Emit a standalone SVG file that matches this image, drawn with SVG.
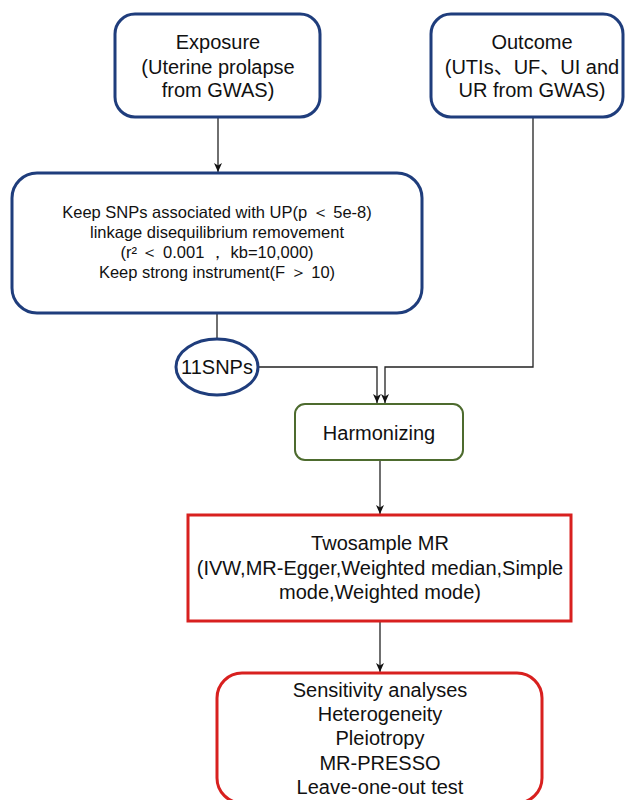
<svg xmlns="http://www.w3.org/2000/svg" width="627" height="800" viewBox="0 0 627 800">
<defs>
<marker id="arr" markerWidth="10" markerHeight="8" refX="9" refY="4" orient="auto" markerUnits="userSpaceOnUse">
<path d="M0,0 L9,4 L0,8 L2.5,4 z" fill="#111"/>
</marker>
<style>
.blue{fill:#fff;stroke:#1f3d7c;stroke-width:3}
.green{fill:#fff;stroke:#4d6b2e;stroke-width:2}
.red{fill:#fff;stroke:#d8201f;stroke-width:3}
.t{font-family:"Liberation Sans","Noto Sans CJK SC",Arial,sans-serif;font-size:20px;fill:#111;text-anchor:middle}
.s{font-family:"Liberation Sans",Arial,sans-serif;font-size:16.5px;fill:#111;text-anchor:middle}
.c{fill:none;stroke:#222;stroke-width:1.3}
</style>
</defs>
<rect width="627" height="800" fill="#fff"/>
<g id="connectors">
<line class="c" x1="218" y1="118" x2="218" y2="172" marker-end="url(#arr)"/>
<line class="c" x1="217" y1="314" x2="217" y2="339"/>
<polyline class="c" points="258,367 377,367 377,403" marker-end="url(#arr)"/>
<polyline class="c" points="533,118 533,367 385,367 385,403" marker-end="url(#arr)"/>
<line class="c" x1="380" y1="461" x2="380" y2="514" marker-end="url(#arr)"/>
<line class="c" x1="380" y1="622" x2="380" y2="672" marker-end="url(#arr)"/>
</g>
<g id="exposure">
<rect class="blue" x="115" y="14" width="205" height="103" rx="20"/>
<text class="t" x="218" y="49">Exposure</text>
<text class="t" x="218" y="74">(Uterine prolapse</text>
<text class="t" x="218" y="97">from GWAS)</text>
</g>
<g id="outcome">
<rect class="blue" x="431" y="14" width="192" height="103" rx="20"/>
<text class="t" x="532" y="49">Outcome</text>
<text class="t" x="532" y="74">(UTIs、UF、UI and</text>
<text class="t" x="532" y="97">UR from GWAS)</text>
</g>
<g id="selection">
<rect class="blue" x="12" y="173" width="410" height="140" rx="25"/>
<text class="s" x="217" y="218">Keep SNPs associated with UP(p ＜ 5e-8)</text>
<text class="s" x="217" y="238">linkage disequilibrium removement</text>
<text class="s" x="217" y="258">(r² ＜ 0.001 ， kb=10,000)</text>
<text class="s" x="217" y="278">Keep strong instrument(F ＞ 10)</text>
</g>
<g id="snps">
<ellipse class="blue" cx="217" cy="367" rx="41" ry="28"/>
<text class="t" x="217" y="374">11SNPs</text>
</g>
<g id="harmonizing">
<rect class="green" x="295" y="404" width="168" height="56" rx="10"/>
<text class="t" x="379" y="440">Harmonizing</text>
</g>
<g id="twosample">
<rect class="red" x="188" y="515" width="383" height="106"/>
<text class="t" x="380" y="550">Twosample MR</text>
<text class="t" x="380" y="575">(IVW,MR-Egger,Weighted median,Simple</text>
<text class="t" x="380" y="599">mode,Weighted mode)</text>
</g>
<g id="sensitivity">
<rect class="red" x="217" y="673" width="325" height="130" rx="25"/>
<text class="t" x="380" y="697">Sensitivity analyses</text>
<text class="t" x="380" y="721">Heterogeneity</text>
<text class="t" x="380" y="745">Pleiotropy</text>
<text class="t" x="380" y="770">MR-PRESSO</text>
<text class="t" x="380" y="794">Leave-one-out test</text>
</g>
</svg>
